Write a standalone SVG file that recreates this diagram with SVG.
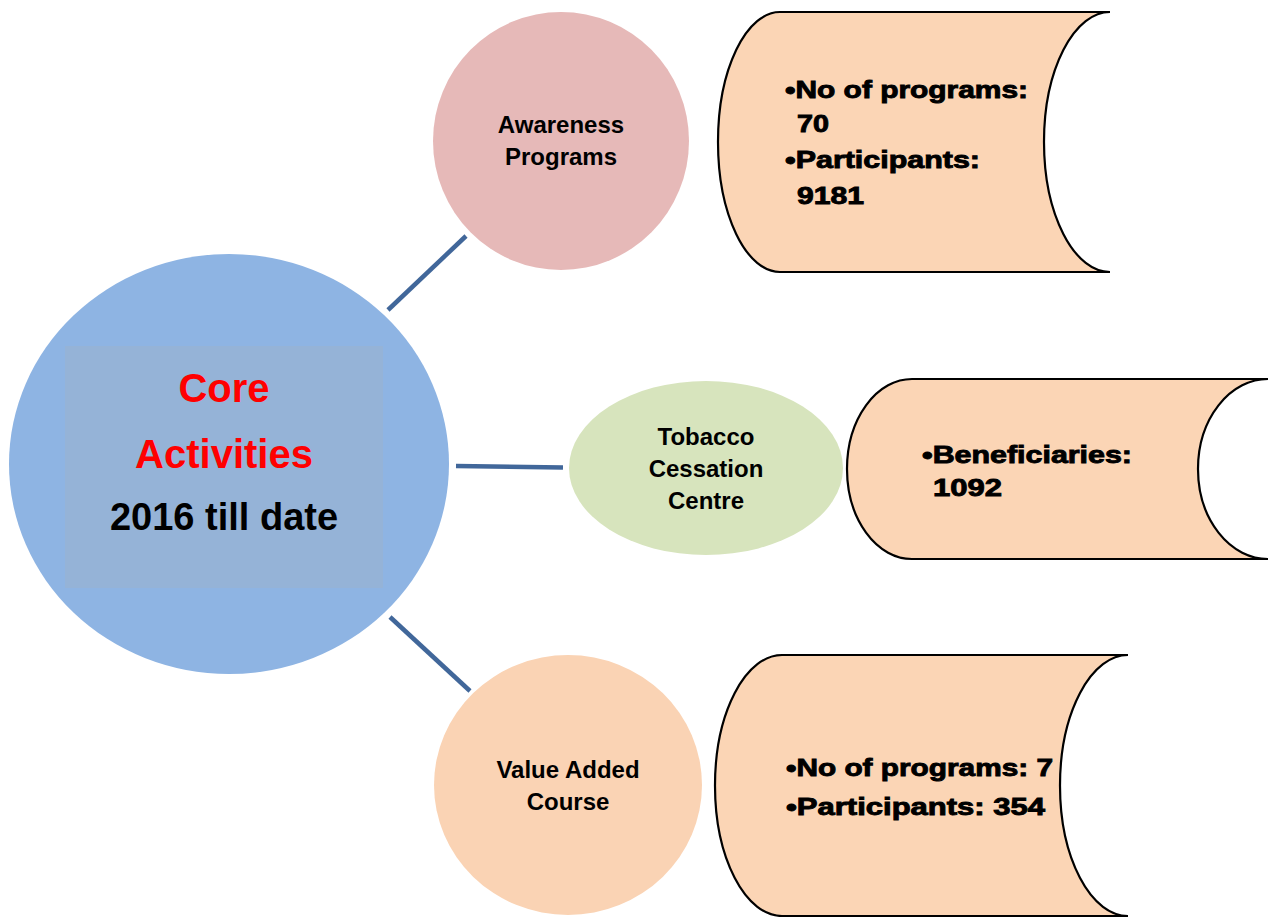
<svg xmlns="http://www.w3.org/2000/svg" width="1274" height="917" viewBox="0 0 1274 917">
<style>
.lbl{font-family:"Liberation Sans",Arial,sans-serif;font-weight:bold;font-size:24px;fill:#000;text-anchor:middle}
.core{font-family:"Liberation Sans",Arial,sans-serif;font-weight:bold;font-size:38px;text-anchor:middle}
.red{font-size:40px;fill:#FF0000}
.box{fill:#FBD5B5;stroke:#000;stroke-width:2.2}
.bt{font-family:"Liberation Sans",Arial,sans-serif;font-weight:bold;font-size:24px;fill:#000;stroke:#000;stroke-width:0.9}
.conn{stroke:#41679A;stroke-width:4.5;fill:none}
</style>
<rect width="1274" height="917" fill="#fff"/>
<g id="connectors">
<line class="conn" x1="388" y1="310" x2="466" y2="236"/>
<line class="conn" x1="456" y1="466" x2="563" y2="467.5"/>
<line class="conn" x1="390" y1="617" x2="470" y2="691"/>
</g>
<g id="core">
<ellipse cx="229" cy="464" rx="220" ry="210" fill="#8EB4E3"/>
<rect x="65" y="346" width="318" height="242" fill="#95B3D7"/>
<text class="core red" x="224" y="402">Core</text>
<text class="core red" x="224" y="468">Activities</text>
<text class="core" x="224" y="530" fill="#000">2016 till date</text>
</g>
<g id="awareness">
<ellipse cx="561" cy="141" rx="128" ry="129" fill="#E6B9B8"/>
<text class="lbl" x="561" y="133">Awareness</text>
<text class="lbl" x="561" y="165">Programs</text>
</g>
<g id="tobacco">
<ellipse cx="706" cy="468" rx="137" ry="87" fill="#D7E4BD"/>
<text class="lbl" x="706" y="445">Tobacco</text>
<text class="lbl" x="706" y="477">Cessation</text>
<text class="lbl" x="706" y="509">Centre</text>
</g>
<g id="valueadded">
<ellipse cx="568" cy="785" rx="134" ry="130" fill="#FAD3B4"/>
<text class="lbl" x="568" y="778">Value Added</text>
<text class="lbl" x="568" y="810">Course</text>
</g>
<g id="awareness-stats">
<path class="box" d="M780,12 L1110,12 A66,130 0 0 0 1110,272 L780,272 A62,130 0 0 1 780,12 Z"/>
<text class="bt" x="785" y="98" textLength="243" lengthAdjust="spacingAndGlyphs">•No of programs:</text>
<text class="bt" x="797" y="132" textLength="32" lengthAdjust="spacingAndGlyphs">70</text>
<text class="bt" x="785" y="168" textLength="195" lengthAdjust="spacingAndGlyphs">•Participants:</text>
<text class="bt" x="797" y="204" textLength="67" lengthAdjust="spacingAndGlyphs">9181</text>
</g>
<g id="tobacco-stats">
<path class="box" d="M912,379 L1268,379 A70,90 0 0 0 1268,559 L912,559 A65,90 0 0 1 912,379 Z"/>
<text class="bt" x="922" y="463" textLength="210" lengthAdjust="spacingAndGlyphs">•Beneficiaries:</text>
<text class="bt" x="933" y="496" textLength="69" lengthAdjust="spacingAndGlyphs">1092</text>
</g>
<g id="valueadded-stats">
<path class="box" d="M782,655 L1128,655 A68,130.5 0 0 0 1128,916 L782,916 A67,130.5 0 0 1 782,655 Z"/>
<text class="bt" x="786" y="776" textLength="267" lengthAdjust="spacingAndGlyphs">•No of programs: 7</text>
<text class="bt" x="786" y="815" textLength="259" lengthAdjust="spacingAndGlyphs">•Participants: 354</text>
</g>
</svg>
